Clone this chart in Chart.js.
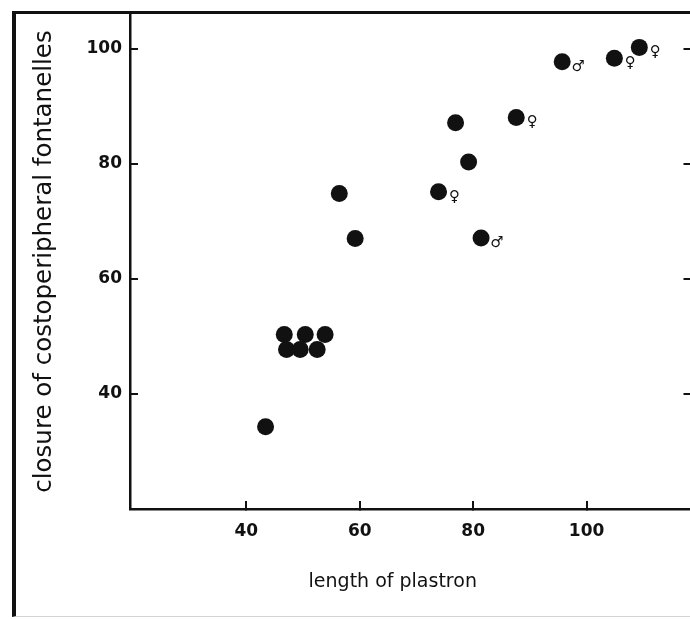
<!DOCTYPE html>
<html>
<head>
<meta charset="utf-8">
<title>Closure of costoperipheral fontanelles</title>
<script src="https://cdn.jsdelivr.net/npm/chart.js@4.4.1/dist/chart.umd.min.js"></script>
<style>
    html, body { margin: 0; padding: 0; background: #fff; overflow: hidden; }
    .frame {
        position: absolute;
        left: 12px; top: 11px;
        width: 700px; height: 602px;
        border-left: 4px solid #111;
        border-top: 3px solid #111;
        border-bottom: 1px solid #d4d4d4;
    }
    #closureChart { position: absolute; left: 0; top: 0; }
</style>
</head>
<body>
<div class="frame"></div>
<canvas id="closureChart" width="700" height="619"></canvas>

<script>
// Plastron length vs. closure of costoperipheral fontanelles
const plastronLength = [43.4, 46.7, 50.4, 53.9, 47.1, 49.5, 52.5, 56.4, 59.2, 73.9, 76.9, 79.2, 81.4, 87.6, 95.7, 104.9, 109.3];
const closure        = [34.3, 50.3, 50.3, 50.3, 47.7, 47.7, 47.7, 74.8, 67.0, 75.1, 87.1, 80.3, 67.1, 88.0, 97.7, 98.3, 100.2];
const sex            = ['', '', '', '', '', '', '', '', '', '♀', '', '', '♂', '♀', '♂', '♀', '♀'];

const xTicks = [40, 60, 80, 100];
const yTicks = [40, 60, 80, 100];

const FONT = "'DejaVu Sans', sans-serif";
const INK = '#111';

// sex marks beside the dots
const sexMarks = {
    id: 'sexMarks',
    afterDatasetsDraw(chart) {
        const ctx = chart.ctx;
        const meta = chart.getDatasetMeta(0);
        ctx.save();
        ctx.fillStyle = INK;
        ctx.font = 'bold 15px ' + FONT;
        ctx.textAlign = 'center';
        ctx.textBaseline = 'middle';
        meta.data.forEach((pt, i) => {
            if (sex[i]) ctx.fillText(sex[i], pt.x + 16, pt.y + 5);
        });
        ctx.restore();
    }
};

// x axis title, set a little left of the plot centre
const xTitle = {
    id: 'xTitle',
    afterDraw(chart) {
        const ctx = chart.ctx;
        const area = chart.chartArea;
        ctx.save();
        ctx.fillStyle = INK;
        ctx.font = '19px ' + FONT;
        ctx.textAlign = 'center';
        ctx.textBaseline = 'middle';
        ctx.fillText('length of plastron', (area.left + area.right) / 2 - 18, 582);
        ctx.restore();
    }
};

function fixedTicks(values) {
    return scale => { scale.ticks = values.map(v => ({ value: v })); };
}

// no extra room for the end labels, the plot runs up to the frame
function noEdgePadding(scale) {
    scale.paddingTop = 0;
    scale.paddingBottom = 0;
    scale.paddingLeft = 0;
    scale.paddingRight = 0;
}

const axisGrid = {
    drawOnChartArea: false,
    drawTicks: true,
    tickLength: -8,
    lineWidth: 2,
    color: INK
};
const axisBorder = { display: true, color: INK, width: 2.5 };

new Chart(document.getElementById('closureChart'), {
    type: 'scatter',
    data: {
        datasets: [{
            data: plastronLength.map((x, i) => ({ x: x, y: closure[i] })),
            backgroundColor: INK,
            borderWidth: 0,
            pointRadius: 8.5,
            pointHoverRadius: 8.5
        }]
    },
    options: {
        responsive: false,
        animation: false,
        layout: { padding: { top: 14, left: 0, right: 0, bottom: 0 } },
        plugins: {
            legend: { display: false },
            tooltip: { enabled: false }
        },
        scales: {
            x: {
                type: 'linear',
                min: 19.5,
                max: 118.5,
                afterBuildTicks: fixedTicks(xTicks),
                afterFit: scale => { noEdgePadding(scale); scale.height = 110; },
                grid: axisGrid,
                border: axisBorder,
                ticks: {
                    color: INK,
                    padding: 20,
                    font: { family: FONT, size: 17, weight: 'bold' }
                }
            },
            y: {
                type: 'linear',
                position: 'left',
                min: 20,
                max: 106,
                afterBuildTicks: fixedTicks(yTicks),
                afterFit: scale => { noEdgePadding(scale); scale.width = 130; },
                grid: axisGrid,
                border: axisBorder,
                ticks: {
                    color: INK,
                    padding: 16,
                    font: { family: FONT, size: 17, weight: 'bold' }
                },
                title: {
                    display: true,
                    text: 'closure of costoperipheral fontanelles',
                    color: INK,
                    padding: { top: 30, bottom: 0 },
                    font: { family: FONT, size: 24.5 }
                }
            },
            y2: {
                type: 'linear',
                position: 'right',
                min: 20,
                max: 106,
                afterBuildTicks: fixedTicks(yTicks),
                afterFit: scale => { noEdgePadding(scale); scale.width = 8; },
                grid: axisGrid,
                border: axisBorder,
                ticks: { display: false }
            }
        }
    },
    plugins: [sexMarks, xTitle]
});
</script>
</body>
</html>
